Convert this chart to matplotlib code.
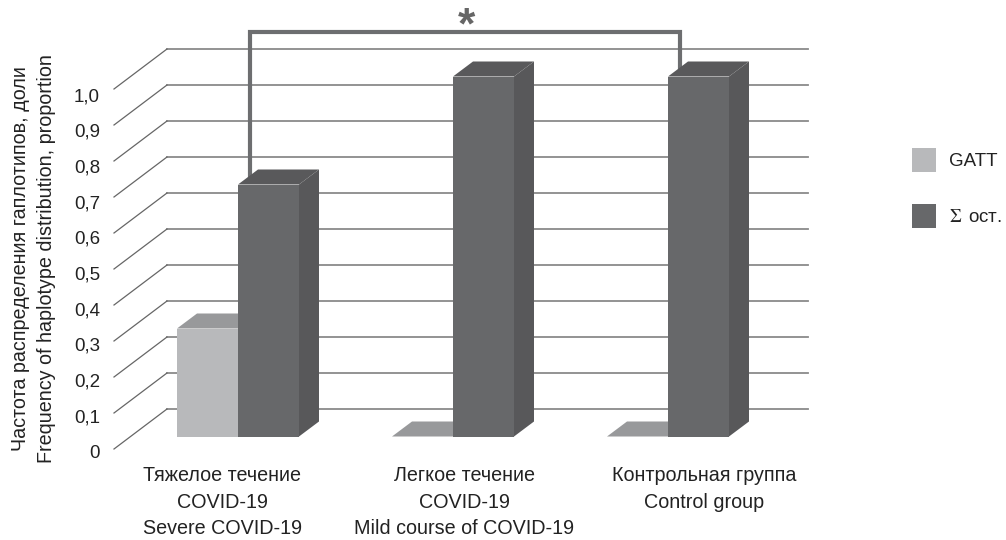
import matplotlib
matplotlib.use("Agg")
import matplotlib.pyplot as plt
from matplotlib.patches import Patch, Polygon

plt.rcParams['font.family'] = ['Liberation Sans', 'DejaVu Sans']
plt.rcParams['mathtext.fontset'] = 'stix'

# ---------------- Data ---------------- #
groups = [0, 1, 2]
gatt_vals = [0.3, 0.0, 0.0]
rest_vals = [0.7, 1.0, 1.0]
series_names = ['GATT', r'$\Sigma\,$ ост.']
tick_vals = [0, 0.1, 0.2, 0.3, 0.4, 0.5, 0.6, 0.7, 0.8, 0.9, 1.0]
tick_labels = ['0', '0,1', '0,2', '0,3', '0,4', '0,5', '0,6', '0,7', '0,8', '0,9', '1,0']
group_labels = [
    'Тяжелое течение\nCOVID-19\nSevere COVID-19',
    'Легкое течение\nCOVID-19\nMild course of COVID-19',
    'Контрольная группа\nControl group',
]
ylabel = 'Частота распределения гаплотипов, доли\nFrequency of haplotype distribution, proportion'

# ---------------- Geometry of the fake 3D ---------------- #
W, H = 1006, 540
PX_X = 215.0   # pixels per group
PX_Y = 360.0   # pixels per 1.0
X0_PX = 238.0  # x pixel of group 0
Y0_PX = 436.5  # y pixel of value 0 at bar front
BAR_W = 61 / PX_X
DEPTH_X = 20 / PX_X
DEPTH_Y = 15 / PX_Y
WALL_LEFT = (167 - X0_PX) / PX_X
WALL_RIGHT = (808 - X0_PX) / PX_X
FLOOR_LEFT = (114 - X0_PX) / PX_X
WALL_DY = 27.5 / PX_Y
FLOOR_DY = -12.5 / PX_Y
LABEL_X_PX = [222, 464, 704]

FRONT = {'light': '#b8b9bb', 'dark': '#67686a'}
TOP = {'light': '#98999b', 'dark': '#59595b'}
SIDE = {'light': '#98999b', 'dark': '#58585a'}
GRID = '#8a8a8a'
TEXT = '#222222'
BRACKET = '#6d6e70'


def px_x(x):
    return (x - X0_PX) / PX_X


def px_y(y):
    return (Y0_PX - y) / PX_Y


fig = plt.figure(figsize=(W / 100, H / 100), dpi=100)
ax = fig.add_axes([0, 0, 1, 1])
ax.set_xlim(px_x(0), px_x(W))
ax.set_ylim(px_y(H), px_y(0))
ax.axis('off')


def bar3d(x_left, val, tone, z):
    x_right = x_left + BAR_W
    ax.bar(x_left, val, BAR_W, align='edge', color=FRONT[tone], lw=0, zorder=z)
    ax.add_patch(Polygon([(x_left, val), (x_right, val),
                          (x_right + DEPTH_X, val + DEPTH_Y), (x_left + DEPTH_X, val + DEPTH_Y)],
                         closed=True, fc=TOP[tone], lw=0, zorder=z))
    ax.add_patch(Polygon([(x_right, 0), (x_right + DEPTH_X, DEPTH_Y),
                          (x_right + DEPTH_X, val + DEPTH_Y), (x_right, val)],
                         closed=True, fc=SIDE[tone], lw=0, zorder=z))


# wall lines and their diagonals
for v, lab in zip(tick_vals, tick_labels):
    ax.plot([WALL_LEFT, WALL_RIGHT], [v + WALL_DY] * 2, color=GRID, lw=1.3, zorder=1)
    ax.plot([FLOOR_LEFT, WALL_LEFT], [v + FLOOR_DY, v + WALL_DY], color='#666666', lw=0.9, zorder=1)
    # tick labels sit on a slightly tighter pitch than the wall lines
    ax.text(px_x(100), px_y(458) + v * 357 / PX_Y, lab, ha='right', va='baseline',
            fontsize=13.5, color=TEXT)

# bars, light series first since the dark one overlaps its top
for g, a, b in zip(groups, gatt_vals, rest_vals):
    bar3d(g - BAR_W, a, 'light', 3)
    bar3d(g, b, 'dark', 4)

# significance bracket
br_left, br_right = px_x(250), px_x(680)
br_top = px_y(32)
ax.plot([br_left, br_left, br_right, br_right],
        [rest_vals[0] + DEPTH_Y * 0.5, br_top, br_top, rest_vals[2] + DEPTH_Y * 0.4],
        color=BRACKET, lw=3, solid_joinstyle='miter', zorder=2)
ax.text(px_x(466), px_y(38), '*', ha='center', va='baseline', fontsize=32, fontweight='bold',
        color='#666666')

for x, lab in zip(LABEL_X_PX, group_labels):
    ax.text(px_x(x), px_y(466), lab, ha='center', va='top', fontsize=14.2,
            color=TEXT, linespacing=1.5)

fig.text(33.5 / W, 1 - 259 / H, ylabel, rotation=90, ha='center', va='center', multialignment='center',
         fontsize=14.2, color=TEXT, linespacing=1.5)

handles = [Patch(fc=FRONT['light'], lw=0), Patch(fc=FRONT['dark'], lw=0)]
ax.legend(handles, series_names, loc='upper left', bbox_to_anchor=(912 / W, 1 - 148 / H),
          frameon=False, fontsize=13.5, handlelength=1.28, handleheight=1.58,
          labelspacing=1.72, handletextpad=0.7, borderpad=0, borderaxespad=0, labelcolor=TEXT)

fig.savefig('out.png', dpi=100)
